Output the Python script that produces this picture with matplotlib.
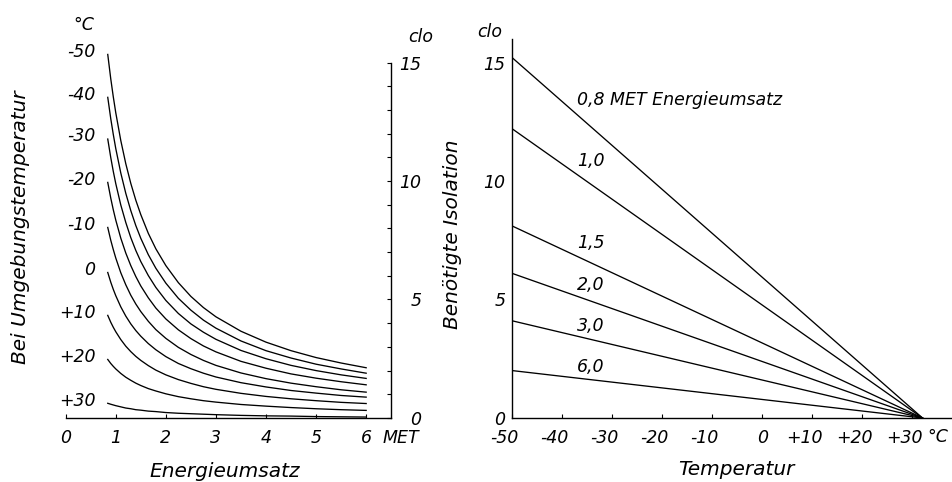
import matplotlib
matplotlib.use("Agg")
import matplotlib.pyplot as plt
import numpy as np
from matplotlib.transforms import ScaledTranslation

# Left panel: required insulation (clo) vs energy turnover (MET), one curve per ambient temperature
met_points = [0.84, 0.9, 0.95, 1.0, 1.1, 1.2, 1.3, 1.4, 1.5, 1.65, 1.8,
              2.0, 2.25, 2.5, 2.75, 3.0, 3.5, 4.0, 4.5, 5.0, 5.5, 6.0]
temp_labels = ["-50", "-40", "-30", "-20", "-10", "0", "+10", "+20", "+30"]
clo_m50 = [15.34, 14.31, 13.56, 12.88, 11.71, 10.73, 9.90, 9.19, 8.58, 7.79, 7.14,
           6.43, 5.71, 5.13, 4.66, 4.27, 3.66, 3.20, 2.84, 2.55, 2.32, 2.12]
clo_m40 = [13.53, 12.63, 11.97, 11.37, 10.34, 9.48, 8.75, 8.12, 7.58, 6.89, 6.32,
           5.69, 5.05, 4.55, 4.13, 3.79, 3.25, 2.84, 2.53, 2.27, 2.07, 1.89]
clo_m30 = [11.77, 10.99, 10.41, 9.89, 8.99, 8.25, 7.61, 7.07, 6.60, 6.01, 5.51,
           4.96, 4.41, 3.97, 3.62, 3.32, 2.85, 2.50, 2.22, 2.00, 1.82, 1.67]
clo_m20 = [9.94, 9.28, 8.79, 8.35, 7.59, 6.96, 6.43, 5.97, 5.57, 5.07, 4.64,
           4.18, 3.72, 3.35, 3.04, 2.79, 2.39, 2.10, 1.86, 1.68, 1.53, 1.40]
clo_m10 = [8.04, 7.50, 7.11, 6.75, 6.13, 5.62, 5.18, 4.81, 4.49, 4.08, 3.73,
           3.36, 2.98, 2.68, 2.43, 2.22, 1.90, 1.66, 1.47, 1.32, 1.19, 1.09]
clo_0 = [6.14, 5.73, 5.43, 5.16, 4.69, 4.30, 3.97, 3.69, 3.45, 3.14, 2.88,
         2.59, 2.30, 2.08, 1.89, 1.73, 1.49, 1.31, 1.16, 1.05, 0.95, 0.88]
clo_p10 = [4.33, 4.04, 3.83, 3.64, 3.31, 3.03, 2.80, 2.60, 2.43, 2.21, 2.02,
           1.82, 1.62, 1.46, 1.32, 1.21, 1.04, 0.91, 0.81, 0.73, 0.66, 0.61]
clo_p20 = [2.47, 2.30, 2.18, 2.07, 1.88, 1.72, 1.59, 1.47, 1.37, 1.24, 1.14,
           1.02, 0.90, 0.81, 0.73, 0.67, 0.57, 0.50, 0.44, 0.39, 0.35, 0.32]
clo_p30 = [0.62, 0.58, 0.55, 0.52, 0.47, 0.42, 0.39, 0.35, 0.33, 0.29, 0.27,
           0.23, 0.20, 0.18, 0.16, 0.14, 0.11, 0.09, 0.08, 0.06, 0.05, 0.04]
left_curves = [clo_m50, clo_m40, clo_m30, clo_m20, clo_m10, clo_0, clo_p10, clo_p20, clo_p30]

# Right panel: required insulation vs temperature, one line per MET level
met_levels = ["0,8 MET Energieumsatz", "1,0", "1,5", "2,0", "3,0", "6,0"]
clo_at_cold = [15.2, 12.2, 8.1, 6.1, 4.1, 2.0]
line_temps = [-50, 32]
clo_at_neutral = 0.0
temp_ticks = [-50, -40, -30, -20, -10, 0, 10, 20, 30]
temp_tick_labels = ["-50", "-40", "-30", "-20", "-10", "0", "+10", "+20", "+30"]

plt.rcParams["font.family"] = ["DejaVu Sans"]
plt.rcParams["font.style"] = "italic"

fig = plt.figure(figsize=(9.52, 4.82), dpi=100)
ax1 = fig.add_axes([0.0690, 0.1328, 0.3414, 0.7867])
ax2 = fig.add_axes([0.5381, 0.1328, 0.4619, 0.7867])

lw = 0.95
tick_fs = 12.5
label_fs = 14.5

# ---- left panel ----
for vals, lab in zip(left_curves, temp_labels):
    ax1.plot(met_points, vals, color="black", linewidth=lw)
    ax1.annotate(lab, xy=(met_points[0], vals[0]), xytext=(-9, 2),
                 textcoords="offset points", ha="right", va="center",
                 fontsize=tick_fs)

ax1.set_xlim(0, 6.49)
ax1.set_ylim(0, 16)
ax1.spines["top"].set_visible(False)
ax1.spines["left"].set_visible(False)
ax1.spines["right"].set_bounds(0, 15)
for s in ("right", "bottom"):
    ax1.spines[s].set_linewidth(1.0)

ax1.set_xticks(range(7))
ax1.tick_params(axis="x", direction="in", length=3, width=0.8, pad=8,
                labelsize=tick_fs)
ax1.yaxis.tick_right()
ax1.set_yticks([0, 5, 10, 15])
ax1.set_yticks(range(16), minor=True)
ax1.tick_params(axis="y", which="both", direction="in", length=3, width=0.8,
                pad=22, labelsize=tick_fs)
plt.setp(ax1.get_yticklabels(), ha="right")

ax1.text(0.976, -0.054, "MET", transform=ax1.transAxes, ha="left",
         va="center", fontsize=tick_fs)
ax1.text(0.056, 1.036, "°C", transform=ax1.transAxes, ha="center",
         va="center", fontsize=tick_fs)
ax1.text(1.093, 1.005, "clo", transform=ax1.transAxes, ha="center",
         va="center", fontsize=tick_fs)
ax1.text(-0.1375, 0.504, "Bei Umgebungstemperatur", transform=ax1.transAxes,
         rotation=90, ha="center", va="center", fontsize=label_fs)
ax1.set_xlabel("Energieumsatz", fontsize=label_fs)
ax1.xaxis.set_label_coords(0.49, -0.115)

# ---- right panel ----
label_temp = -37
label_offsets = [11, 10, 10, 8.5, 7.5, 8]  # points above the line
for c0, lab, off in zip(clo_at_cold, met_levels, label_offsets):
    ys = [c0, clo_at_neutral]
    ax2.plot(line_temps, ys, color="black", linewidth=lw)
    ax2.annotate(lab, xy=(label_temp, np.interp(label_temp, line_temps, ys)),
                 xytext=(0, off), textcoords="offset points", ha="left",
                 va="center", fontsize=tick_fs)

ax2.set_xlim(-50, 37.9)
ax2.set_ylim(0, 16)
ax2.spines["top"].set_visible(False)
ax2.spines["right"].set_visible(False)
for s in ("left", "bottom"):
    ax2.spines[s].set_linewidth(1.0)

ax2.set_xticks(temp_ticks)
ax2.set_xticklabels(temp_tick_labels)
ax2.tick_params(axis="x", direction="in", length=3, width=0.8, pad=8,
                labelsize=tick_fs)
ax2.set_yticks([0, 5, 10, 15])
ax2.tick_params(axis="y", length=0, pad=5, labelsize=tick_fs)

# signed labels sit a little left of their tick in the original
shift = ScaledTranslation(-0.08, 0, fig.dpi_scale_trans)
for lbl, txt in zip(ax2.get_xticklabels(), temp_tick_labels):
    if txt != "0":
        lbl.set_transform(lbl.get_transform() + shift)

ax2.text(0.945, -0.05, "°C", transform=ax2.transAxes, ha="left",
         va="center", fontsize=tick_fs)
ax2.text(-0.051, 1.018, "clo", transform=ax2.transAxes, ha="center",
         va="center", fontsize=tick_fs)
ax2.set_ylabel("Benötigte Isolation", fontsize=label_fs)
ax2.yaxis.set_label_coords(-0.114, 0.485)
ax2.set_xlabel("Temperatur", fontsize=label_fs)
ax2.xaxis.set_label_coords(0.51, -0.11)

fig.savefig("out.png", dpi=100, facecolor="white")
